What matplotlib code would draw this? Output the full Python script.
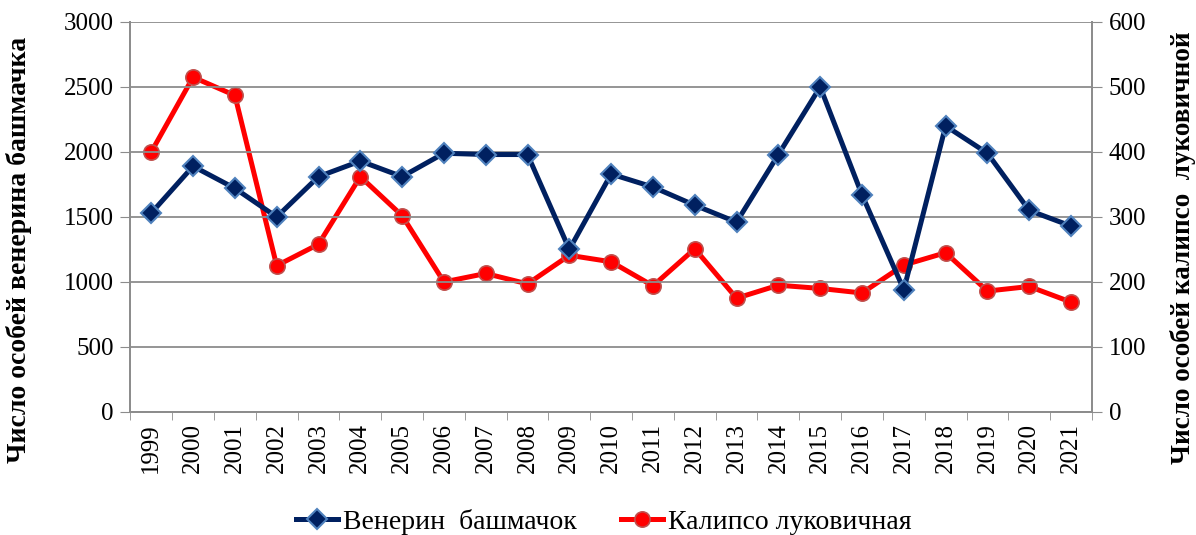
import matplotlib.pyplot as plt
import numpy as np

plt.rcParams['font.family'] = ['Liberation Serif', 'DejaVu Serif']

years = [str(y) for y in range(1999, 2022)]
venerin = [1530, 1890, 1720, 1500, 1810, 1930, 1810, 1990, 1980, 1980, 1250,
           1830, 1730, 1590, 1460, 1980, 2500, 1670, 940, 2200, 1990, 1550, 1430]
kalipso = [400, 515, 487, 225, 258, 362, 302, 200, 213, 197, 241,
           231, 194, 251, 175, 195, 190, 183, 226, 245, 186, 193, 169]

fig = plt.figure(figsize=(11.96, 5.35), dpi=100)
ax = fig.add_axes([0.109, 0.230, 0.804, 0.729])
ax2 = ax.twinx()

x = np.arange(len(years))
l1, = ax.plot(x, venerin, color='#002060', lw=3.6, marker='D', ms=10.5,
              mfc='#002060', mec='#4f81bd', mew=1.5, label='Венерин  башмачок', zorder=3)
l2, = ax2.plot(x, kalipso, color='#ff0000', lw=3.6, marker='o', ms=11,
               mfc='#ff0000', mec='#c0504d', mew=1.2, label='Калипсо луковичная', zorder=3)
ax.set_zorder(ax2.get_zorder() + 1)
ax.patch.set_visible(False)

ax.set_xlim(-0.5, len(years) - 0.5)
ax.set_ylim(0, 3000)
ax2.set_ylim(0, 600)
ax.set_yticks(range(0, 3001, 500))
ax2.set_yticks(range(0, 601, 100))
ax.set_xticks(x)
ax.set_xticklabels(years, rotation=90, fontsize=18)
ax.set_xticks(np.arange(-0.5, len(years), 1), minor=True)
ax.tick_params(axis='x', which='major', length=0, pad=8)
ax.tick_params(axis='x', which='minor', length=6, color='#8c8c8c')
ax.tick_params(axis='y', labelsize=18, length=7, color='#8c8c8c', pad=5)
ax2.tick_params(axis='y', labelsize=18, length=7, color='#8c8c8c', pad=5)

ax.grid(axis='y', color='#8c8c8c', lw=1.3)
for a in (ax, ax2):
    a.spines['top'].set_visible(False)
    for s in ('left', 'right', 'bottom'):
        a.spines[s].set_color('#8c8c8c')
        a.spines[s].set_linewidth(1.3)

ax.set_ylabel('Число особей венерина башмачка', fontsize=20, fontweight='bold')
ax2.set_ylabel('Число особей калипсо  луковичной', fontsize=19.5, fontweight='bold')
ax.yaxis.set_label_coords(-0.102, 0.415)
ax2.yaxis.set_label_coords(1.081, 0.42)

fig.legend([l1, l2], [l1.get_label(), l2.get_label()], loc='center',
           bbox_to_anchor=(0.505, 0.025), ncol=2, frameon=False, fontsize=20,
           handlelength=1.5, handletextpad=0.2, columnspacing=1.6)

fig.savefig('out.png', dpi=100)
